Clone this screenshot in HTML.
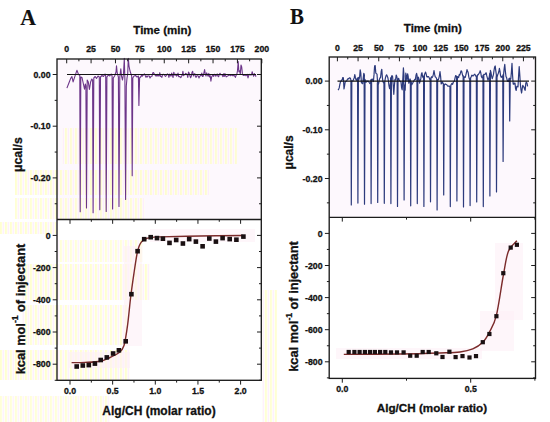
<!DOCTYPE html><html><head><meta charset="utf-8"><style>html,body{margin:0;padding:0;background:#fff;width:550px;height:422px;overflow:hidden}svg{display:block}</style></head><body><svg width="550" height="422" viewBox="0 0 550 422">
<rect width="550" height="422" fill="#fff"/>
<defs><pattern id="ys" width="5" height="6" patternUnits="userSpaceOnUse"><rect width="5" height="6" fill="#fffff0"/><rect x="0" width="1.8" height="6" fill="#ffffb0"/><rect x="2.8" width="1.2" height="6" fill="#fde4fd"/></pattern></defs>
<rect x="58" y="60" width="202" height="159" fill="#fdf8fd"/>
<rect x="62" y="128" width="175" height="36" fill="url(#ys)" opacity="0.55"/>
<rect x="15" y="170" width="195" height="25" fill="url(#ys)" opacity="0.6"/>
<rect x="15" y="198" width="130" height="21" fill="url(#ys)" opacity="0.55"/>
<rect x="0" y="222" width="56" height="12" fill="url(#ys)" opacity="0.6"/>
<rect x="58" y="240" width="85" height="22" fill="url(#ys)" opacity="0.5"/>
<rect x="22" y="264" width="128" height="36" fill="url(#ys)" opacity="0.6"/>
<rect x="22" y="305" width="105" height="40" fill="url(#ys)" opacity="0.55"/>
<rect x="0" y="350" width="130" height="30" fill="url(#ys)" opacity="0.6"/>
<rect x="0" y="396" width="110" height="26" fill="url(#ys)" opacity="0.5"/>
<rect x="262" y="290" width="15" height="132" fill="url(#ys)" opacity="0.55"/>
<rect x="336" y="348" width="146" height="11" fill="#fdf0f7" opacity="0.6"/>
<rect x="480" y="311" width="34" height="40" fill="#fdf0f7" opacity="0.6"/>
<rect x="495" y="243" width="28" height="77" fill="#fdf0f7" opacity="0.6"/>
<rect x="150" y="229" width="105" height="13" fill="#fdf0f7" opacity="0.6"/>
<rect x="68" y="352" width="62" height="16" fill="#fdf0f7" opacity="0.6"/>
<rect x="124" y="246" width="18" height="100" fill="#fdf0f7" opacity="0.6"/>
<rect x="330" y="58" width="205" height="159" fill="#fdf8fd"/>
<path d="M66.90,88.10 L69.00,82.70 L70.60,78.60 L71.90,76.50 L73.10,81.90 L74.40,77.80 L76.90,70.30 L78.50,74.40 L79.80,75.50 L80.20,211.70 L80.80,77.00 L82.00,77.50 L83.20,83.00 L84.50,89.20 L85.30,84.00 L85.90,86.00 L86.50,208.00 L87.20,80.00 L88.30,82.00 L89.40,89.40 L90.60,82.00 L91.80,79.00 L92.60,80.00 L93.10,212.70 L93.80,78.00 L95.20,76.50 L96.50,78.50 L98.00,76.00 L99.30,77.00 L99.80,209.80 L100.50,77.00 L102.00,75.50 L103.50,76.50 L105.00,74.00 L105.70,76.00 L106.20,211.40 L106.90,77.00 L108.30,75.00 L109.80,76.00 L111.20,74.00 L112.10,76.00 L112.60,208.90 L113.30,78.00 L114.60,76.00 L116.00,72.00 L116.50,65.70 L117.20,73.00 L118.40,77.00 L119.00,206.40 L119.80,77.00 L120.80,68.90 L121.50,76.00 L122.50,80.00 L123.50,74.00 L124.30,58.20 L124.90,80.00 L125.60,199.50 L126.30,86.00 L127.00,78.00 L127.70,74.00 L128.30,58.20 L129.00,66.00 L130.00,71.00 L131.00,74.00 L131.70,76.00 L132.20,175.70 L132.80,78.00 L134.00,76.00 L135.50,75.50 L137.00,77.00 L138.40,76.00 L138.90,105.50 L139.60,78.00 L141.00,76.50 L141.60,74.99 L142.30,76.22 L143.00,75.04 L143.70,74.90 L144.40,73.91 L145.10,75.06 L145.80,77.18 L146.50,76.08 L147.20,77.06 L147.90,75.80 L148.60,76.03 L149.30,75.98 L150.00,78.00 L150.70,76.92 L151.40,76.21 L152.10,76.20 L152.80,72.69 L153.50,72.61 L154.20,73.98 L154.90,74.65 L155.60,75.89 L156.30,75.33 L157.00,76.23 L157.70,74.37 L158.40,75.89 L159.10,76.03 L159.80,72.67 L160.50,76.39 L161.20,76.29 L161.90,77.32 L162.60,74.41 L163.30,74.22 L164.00,74.85 L164.70,75.23 L165.40,76.41 L166.10,75.80 L166.80,74.68 L167.50,73.87 L168.20,74.57 L168.90,77.35 L169.60,74.11 L170.30,75.79 L171.00,76.08 L171.70,73.02 L172.40,75.48 L173.10,77.49 L173.80,72.18 L174.50,74.89 L175.20,75.23 L175.90,74.09 L176.60,76.20 L177.30,75.30 L178.00,73.06 L178.70,76.72 L179.40,76.47 L180.10,76.91 L180.80,77.70 L181.50,75.98 L182.20,75.59 L182.90,71.33 L183.60,75.62 L184.30,74.42 L185.00,74.68 L185.70,73.38 L186.40,73.85 L187.10,74.55 L187.80,77.46 L188.50,72.15 L189.20,73.07 L189.90,75.78 L190.60,77.71 L191.30,76.33 L192.00,72.36 L192.70,71.37 L193.40,75.97 L194.10,74.22 L194.80,73.61 L195.50,76.96 L196.20,77.16 L196.90,75.65 L197.60,75.79 L198.30,76.09 L199.00,77.95 L199.70,76.39 L200.40,75.62 L201.10,75.66 L201.80,73.12 L202.50,76.54 L203.20,76.15 L203.90,72.96 L204.60,69.53 L205.30,74.24 L206.00,76.01 L206.70,72.83 L207.40,74.78 L208.10,76.22 L208.80,73.43 L209.50,76.93 L210.20,75.66 L210.90,81.10 L211.60,77.04 L212.30,75.78 L213.00,75.14 L213.70,76.37 L214.40,74.21 L215.10,74.50 L215.80,76.25 L216.50,75.03 L217.20,73.94 L217.90,76.14 L218.60,76.76 L219.30,74.47 L220.00,73.34 L220.70,74.84 L221.40,74.82 L222.10,74.64 L222.80,76.69 L223.50,73.77 L224.20,76.51 L224.90,73.48 L225.60,75.78 L226.30,76.85 L227.00,76.35 L227.70,76.03 L228.40,75.41 L229.10,75.17 L229.80,75.18 L230.50,75.69 L231.20,74.79 L231.90,75.33 L232.60,75.69 L233.30,75.00 L234.00,75.92 L234.70,75.68 L235.40,77.41 L236.10,75.39 L236.80,74.49 L237.50,70.64 L238.20,61.50 L238.90,71.73 L239.60,70.77 L240.30,74.12 L241.00,65.04 L241.70,66.96 L242.40,73.65 L243.10,75.29 L243.80,75.48 L244.50,75.29 L245.20,74.48 L245.90,75.79 L246.60,75.34 L247.30,74.37 L248.00,77.92 L248.70,75.43 L249.40,74.33 L250.10,74.88 L250.80,74.73 L251.50,74.92 L252.20,71.73 L252.90,74.42 L253.60,76.21 L254.30,73.60 L255.00,74.92 L255.70,76.14 L256.40,76.03" fill="none" stroke="#6c3589" stroke-width="1.1" stroke-linejoin="round"/>
<line x1="67.00" y1="74.50" x2="256.00" y2="74.50" stroke="#151515" stroke-width="1.1"/>
<path d="M338.00,90.12 L338.60,89.40 L339.20,87.90 L339.80,84.69 L340.40,82.04 L341.00,81.13 L341.60,80.14 L342.20,79.87 L342.80,77.52 L343.40,77.78 L344.00,88.85 L344.60,85.53 L345.20,82.00 L345.80,81.59 L346.40,80.88 L347.00,80.34 L347.60,79.08 L348.20,78.67 L348.80,78.91 L349.40,77.82 L350.00,77.78 L350.60,78.75 L351.20,81.60 L350.95,81.10 L351.30,204.90 L351.80,85.10 L351.80,81.16 L352.40,80.97 L353.00,80.93 L353.60,79.16 L354.20,77.92 L354.80,74.60 L355.40,77.48 L356.00,79.87 L356.60,80.31 L357.20,78.62 L357.80,78.01 L357.55,80.15 L357.90,203.10 L358.40,85.10 L358.40,77.36 L359.00,79.34 L359.60,77.10 L360.20,69.85 L360.80,73.10 L361.40,82.81 L362.00,83.11 L362.60,83.73 L363.20,78.67 L363.80,73.27 L364.40,74.88 L364.15,82.05 L364.50,204.20 L365.00,85.10 L365.00,79.44 L365.60,81.74 L366.20,82.20 L366.80,80.90 L367.40,81.33 L368.00,81.11 L368.60,81.28 L369.20,82.45 L369.80,83.55 L370.40,83.07 L371.00,81.33 L370.75,79.96 L371.10,203.60 L371.60,85.10 L371.60,79.44 L372.20,78.99 L372.80,79.98 L373.40,81.54 L374.00,74.89 L374.60,66.03 L375.20,65.62 L375.80,73.13 L376.40,73.61 L377.00,74.13 L377.60,82.51 L377.35,82.93 L377.70,202.50 L378.20,85.10 L378.20,84.95 L378.80,82.77 L379.40,79.31 L380.00,78.13 L380.60,77.16 L381.20,71.49 L381.80,69.24 L382.40,77.73 L383.00,81.82 L383.60,82.86 L384.20,82.50 L383.95,83.07 L384.30,203.30 L384.80,85.10 L384.80,81.61 L385.40,78.01 L386.00,75.80 L386.60,74.86 L387.20,76.11 L387.80,77.42 L388.40,80.88 L389.00,85.83 L389.60,88.69 L390.20,84.73 L390.80,80.81 L390.55,77.85 L390.90,203.60 L391.40,85.10 L391.40,76.94 L392.00,75.59 L392.60,76.51 L393.20,85.14 L393.80,94.30 L394.40,85.46 L395.00,79.33 L395.60,79.76 L396.20,75.04 L396.80,76.38 L397.40,80.02 L397.15,79.69 L397.50,206.40 L398.00,85.10 L398.00,79.05 L398.60,78.27 L399.20,80.02 L399.80,80.85 L400.40,81.42 L401.00,82.01 L401.60,87.94 L402.20,89.83 L402.80,79.36 L403.40,67.88 L404.00,75.92 L403.75,80.52 L404.10,200.00 L404.60,85.10 L404.60,88.56 L405.20,90.28 L405.80,73.20 L406.40,76.18 L407.00,80.73 L407.60,73.73 L408.20,76.46 L408.80,83.23 L409.40,81.03 L410.00,78.94 L410.60,80.90 L410.35,79.73 L410.70,205.80 L411.20,85.10 L411.20,81.94 L411.80,84.73 L412.40,83.51 L413.00,82.65 L413.60,80.93 L414.20,80.34 L414.80,79.38 L415.40,79.46 L416.00,75.30 L416.60,73.34 L417.20,76.12 L416.95,79.44 L417.30,203.60 L417.80,85.10 L417.80,78.13 L418.40,77.14 L419.00,79.26 L419.60,83.04 L420.20,80.43 L420.80,78.69 L421.40,74.10 L422.00,72.70 L422.60,76.89 L423.20,77.64 L423.80,77.28 L423.55,76.10 L423.90,206.40 L424.40,85.10 L424.40,74.90 L425.00,73.25 L425.60,72.10 L426.20,74.09 L426.80,76.81 L427.40,77.06 L428.00,76.54 L428.60,76.69 L429.20,77.84 L429.80,79.56 L430.40,78.73 L430.15,78.83 L430.50,201.80 L431.00,85.10 L431.00,77.50 L431.60,76.75 L432.20,77.53 L432.80,76.42 L433.40,74.18 L434.00,70.70 L434.60,74.21 L435.20,76.80 L435.80,77.23 L436.40,78.11 L437.00,79.72 L436.75,79.26 L437.10,210.00 L437.60,85.10 L437.60,79.56 L438.20,79.92 L438.80,78.36 L439.40,75.97 L440.00,71.70 L440.60,76.36 L441.20,83.89 L441.80,82.99 L442.40,81.68 L443.00,83.55 L443.60,83.71 L443.35,85.10 L443.70,195.00 L444.20,85.10 L444.20,85.73 L444.80,84.27 L445.40,83.98 L446.00,84.50 L446.60,84.52 L447.20,85.41 L447.80,86.17 L448.40,86.17 L449.00,85.96 L449.60,86.55 L450.20,86.76 L449.95,86.80 L450.30,206.60 L450.80,85.10 L450.80,85.61 L451.40,84.21 L452.00,83.42 L452.60,84.29 L453.20,82.51 L453.80,81.44 L454.40,81.00 L455.00,78.06 L455.60,75.55 L456.20,76.05 L456.80,76.52 L456.55,76.30 L456.90,201.00 L457.40,85.10 L457.40,76.83 L458.00,76.82 L458.60,77.54 L459.20,74.63 L459.80,75.19 L460.40,73.07 L461.00,70.91 L461.60,71.10 L462.20,73.68 L462.80,76.06 L463.40,76.91 L463.15,75.56 L463.50,207.00 L464.00,85.10 L464.00,77.00 L464.60,76.86 L465.20,77.46 L465.80,75.23 L466.40,72.74 L467.00,69.60 L467.60,71.35 L468.20,72.75 L468.80,76.82 L469.40,79.15 L470.00,78.79 L469.75,79.82 L470.10,205.60 L470.60,85.10 L470.60,78.06 L471.20,76.73 L471.80,75.23 L472.40,75.40 L473.00,76.00 L473.60,75.16 L474.20,74.73 L474.80,74.22 L475.40,75.26 L476.00,76.40 L476.60,77.11 L476.35,75.96 L476.70,202.00 L477.20,85.10 L477.20,76.94 L477.80,74.70 L478.40,74.55 L479.00,73.42 L479.60,72.66 L480.20,70.70 L480.80,72.97 L481.40,76.61 L482.00,77.81 L482.60,77.17 L483.20,75.55 L482.95,75.30 L483.30,206.60 L483.80,85.10 L483.80,74.35 L484.40,74.51 L485.00,74.48 L485.60,73.24 L486.20,72.80 L486.80,75.94 L487.40,78.18 L488.00,80.32 L488.60,78.43 L489.20,77.37 L489.80,73.10 L489.55,77.13 L489.90,196.00 L490.40,85.10 L490.40,70.45 L491.00,72.48 L491.60,76.20 L492.20,78.73 L492.80,76.85 L493.40,74.81 L494.00,70.70 L494.60,67.10 L495.20,65.94 L495.80,70.91 L496.40,75.18 L496.15,77.41 L496.50,192.00 L497.00,85.10 L497.00,77.27 L497.60,75.05 L498.20,73.61 L498.80,71.73 L499.40,68.25 L500.00,71.33 L500.60,75.82 L501.20,77.35 L501.80,76.49 L502.40,77.05 L503.00,74.91 L502.75,75.94 L503.10,161.40 L503.60,85.10 L503.60,74.41 L504.20,68.37 L504.80,64.43 L505.40,71.56 L506.00,76.50 L506.60,77.64 L507.20,80.26 L507.80,81.38 L508.40,81.30 L509.00,78.57 L509.60,78.20 L509.35,79.17 L509.70,121.00 L510.20,85.10 L510.20,78.75 L510.80,78.86 L511.40,72.07 L512.00,63.40 L512.60,75.80 L513.20,84.05 L513.80,84.09 L514.40,83.17 L515.00,83.07 L515.60,88.87 L516.20,90.43 L516.80,86.41 L517.40,86.30 L518.00,86.80 L518.60,75.90 L519.20,66.50 L519.80,75.11 L520.40,84.69 L521.00,89.94 L521.60,93.02 L522.20,88.60 L522.80,85.24 L523.40,86.80 L524.00,86.81 L524.60,89.31 L525.20,90.32 L525.80,83.30 L526.40,82.12 L527.00,83.21 L527.60,86.32" fill="none" stroke="#2d3b7d" stroke-width="1.2" stroke-linejoin="round"/>
<line x1="337.50" y1="81.10" x2="529.00" y2="81.10" stroke="#151515" stroke-width="1.1"/>
<rect x="0" y="0" width="550" height="57.5" fill="#fff"/>
<rect x="120" y="56" width="12" height="3" fill="#fff" opacity="0"/>
<rect x="57" y="59" width="204.30" height="321.30" fill="none" stroke="#1c1c1c" stroke-width="1.35"/>
<line x1="57.00" y1="219.50" x2="261.30" y2="219.50" stroke="#1c1c1c" stroke-width="1.35"/>
<rect x="329.2" y="57" width="206.30" height="321.40" fill="none" stroke="#1c1c1c" stroke-width="1.35"/>
<line x1="329.20" y1="217.30" x2="535.50" y2="217.30" stroke="#1c1c1c" stroke-width="1.35"/>
<line x1="66.70" y1="59.00" x2="66.70" y2="63.30" stroke="#1c1c1c" stroke-width="1"/>
<text transform="translate(66.70,52.40) scale(0.95,1)" font-family="Liberation Sans" font-size="9.2" font-weight="bold" text-anchor="middle" fill="#111" stroke="#111" stroke-width="0.3" >0</text>
<line x1="78.90" y1="59.00" x2="78.90" y2="61.30" stroke="#1c1c1c" stroke-width="1"/>
<line x1="91.09" y1="59.00" x2="91.09" y2="63.30" stroke="#1c1c1c" stroke-width="1"/>
<text transform="translate(91.09,52.40) scale(0.95,1)" font-family="Liberation Sans" font-size="9.2" font-weight="bold" text-anchor="middle" fill="#111" stroke="#111" stroke-width="0.3" >25</text>
<line x1="103.28" y1="59.00" x2="103.28" y2="61.30" stroke="#1c1c1c" stroke-width="1"/>
<line x1="115.48" y1="59.00" x2="115.48" y2="63.30" stroke="#1c1c1c" stroke-width="1"/>
<text transform="translate(115.48,52.40) scale(0.95,1)" font-family="Liberation Sans" font-size="9.2" font-weight="bold" text-anchor="middle" fill="#111" stroke="#111" stroke-width="0.3" >50</text>
<line x1="127.68" y1="59.00" x2="127.68" y2="61.30" stroke="#1c1c1c" stroke-width="1"/>
<line x1="139.87" y1="59.00" x2="139.87" y2="63.30" stroke="#1c1c1c" stroke-width="1"/>
<text transform="translate(139.87,52.40) scale(0.95,1)" font-family="Liberation Sans" font-size="9.2" font-weight="bold" text-anchor="middle" fill="#111" stroke="#111" stroke-width="0.3" >75</text>
<line x1="152.06" y1="59.00" x2="152.06" y2="61.30" stroke="#1c1c1c" stroke-width="1"/>
<line x1="164.26" y1="59.00" x2="164.26" y2="63.30" stroke="#1c1c1c" stroke-width="1"/>
<text transform="translate(164.26,52.40) scale(0.95,1)" font-family="Liberation Sans" font-size="9.2" font-weight="bold" text-anchor="middle" fill="#111" stroke="#111" stroke-width="0.3" >100</text>
<line x1="176.45" y1="59.00" x2="176.45" y2="61.30" stroke="#1c1c1c" stroke-width="1"/>
<line x1="188.65" y1="59.00" x2="188.65" y2="63.30" stroke="#1c1c1c" stroke-width="1"/>
<text transform="translate(188.65,52.40) scale(0.95,1)" font-family="Liberation Sans" font-size="9.2" font-weight="bold" text-anchor="middle" fill="#111" stroke="#111" stroke-width="0.3" >125</text>
<line x1="200.85" y1="59.00" x2="200.85" y2="61.30" stroke="#1c1c1c" stroke-width="1"/>
<line x1="213.04" y1="59.00" x2="213.04" y2="63.30" stroke="#1c1c1c" stroke-width="1"/>
<text transform="translate(213.04,52.40) scale(0.95,1)" font-family="Liberation Sans" font-size="9.2" font-weight="bold" text-anchor="middle" fill="#111" stroke="#111" stroke-width="0.3" >150</text>
<line x1="225.24" y1="59.00" x2="225.24" y2="61.30" stroke="#1c1c1c" stroke-width="1"/>
<line x1="237.43" y1="59.00" x2="237.43" y2="63.30" stroke="#1c1c1c" stroke-width="1"/>
<text transform="translate(237.43,52.40) scale(0.95,1)" font-family="Liberation Sans" font-size="9.2" font-weight="bold" text-anchor="middle" fill="#111" stroke="#111" stroke-width="0.3" >175</text>
<line x1="249.62" y1="59.00" x2="249.62" y2="61.30" stroke="#1c1c1c" stroke-width="1"/>
<line x1="261.82" y1="59.00" x2="261.82" y2="63.30" stroke="#1c1c1c" stroke-width="1"/>
<text transform="translate(261.82,52.40) scale(0.95,1)" font-family="Liberation Sans" font-size="9.2" font-weight="bold" text-anchor="middle" fill="#111" stroke="#111" stroke-width="0.3" >200</text>
<line x1="52.70" y1="74.50" x2="57.00" y2="74.50" stroke="#1c1c1c" stroke-width="1"/>
<line x1="257.00" y1="74.50" x2="261.30" y2="74.50" stroke="#1c1c1c" stroke-width="1"/>
<text transform="translate(50.50,77.60) scale(0.95,1)" font-family="Liberation Sans" font-size="9.2" font-weight="bold" text-anchor="end" fill="#111" stroke="#111" stroke-width="0.3" >0.00</text>
<line x1="54.70" y1="100.35" x2="57.00" y2="100.35" stroke="#1c1c1c" stroke-width="1"/>
<line x1="259.00" y1="100.35" x2="261.30" y2="100.35" stroke="#1c1c1c" stroke-width="1"/>
<line x1="52.70" y1="126.20" x2="57.00" y2="126.20" stroke="#1c1c1c" stroke-width="1"/>
<line x1="257.00" y1="126.20" x2="261.30" y2="126.20" stroke="#1c1c1c" stroke-width="1"/>
<text transform="translate(50.50,129.30) scale(0.95,1)" font-family="Liberation Sans" font-size="9.2" font-weight="bold" text-anchor="end" fill="#111" stroke="#111" stroke-width="0.3" >-0.10</text>
<line x1="54.70" y1="152.05" x2="57.00" y2="152.05" stroke="#1c1c1c" stroke-width="1"/>
<line x1="259.00" y1="152.05" x2="261.30" y2="152.05" stroke="#1c1c1c" stroke-width="1"/>
<line x1="52.70" y1="177.90" x2="57.00" y2="177.90" stroke="#1c1c1c" stroke-width="1"/>
<line x1="257.00" y1="177.90" x2="261.30" y2="177.90" stroke="#1c1c1c" stroke-width="1"/>
<text transform="translate(50.50,181.00) scale(0.95,1)" font-family="Liberation Sans" font-size="9.2" font-weight="bold" text-anchor="end" fill="#111" stroke="#111" stroke-width="0.3" >-0.20</text>
<line x1="54.70" y1="203.75" x2="57.00" y2="203.75" stroke="#1c1c1c" stroke-width="1"/>
<line x1="259.00" y1="203.75" x2="261.30" y2="203.75" stroke="#1c1c1c" stroke-width="1"/>
<line x1="52.70" y1="235.40" x2="57.00" y2="235.40" stroke="#1c1c1c" stroke-width="1"/>
<line x1="257.00" y1="235.40" x2="261.30" y2="235.40" stroke="#1c1c1c" stroke-width="1"/>
<text transform="translate(50.50,238.50) scale(0.95,1)" font-family="Liberation Sans" font-size="9.2" font-weight="bold" text-anchor="end" fill="#111" stroke="#111" stroke-width="0.3" >0</text>
<line x1="54.70" y1="251.50" x2="57.00" y2="251.50" stroke="#1c1c1c" stroke-width="1"/>
<line x1="259.00" y1="251.50" x2="261.30" y2="251.50" stroke="#1c1c1c" stroke-width="1"/>
<line x1="52.70" y1="267.60" x2="57.00" y2="267.60" stroke="#1c1c1c" stroke-width="1"/>
<line x1="257.00" y1="267.60" x2="261.30" y2="267.60" stroke="#1c1c1c" stroke-width="1"/>
<text transform="translate(50.50,270.70) scale(0.95,1)" font-family="Liberation Sans" font-size="9.2" font-weight="bold" text-anchor="end" fill="#111" stroke="#111" stroke-width="0.3" >-200</text>
<line x1="54.70" y1="283.70" x2="57.00" y2="283.70" stroke="#1c1c1c" stroke-width="1"/>
<line x1="259.00" y1="283.70" x2="261.30" y2="283.70" stroke="#1c1c1c" stroke-width="1"/>
<line x1="52.70" y1="299.80" x2="57.00" y2="299.80" stroke="#1c1c1c" stroke-width="1"/>
<line x1="257.00" y1="299.80" x2="261.30" y2="299.80" stroke="#1c1c1c" stroke-width="1"/>
<text transform="translate(50.50,302.90) scale(0.95,1)" font-family="Liberation Sans" font-size="9.2" font-weight="bold" text-anchor="end" fill="#111" stroke="#111" stroke-width="0.3" >-400</text>
<line x1="54.70" y1="315.90" x2="57.00" y2="315.90" stroke="#1c1c1c" stroke-width="1"/>
<line x1="259.00" y1="315.90" x2="261.30" y2="315.90" stroke="#1c1c1c" stroke-width="1"/>
<line x1="52.70" y1="332.00" x2="57.00" y2="332.00" stroke="#1c1c1c" stroke-width="1"/>
<line x1="257.00" y1="332.00" x2="261.30" y2="332.00" stroke="#1c1c1c" stroke-width="1"/>
<text transform="translate(50.50,335.10) scale(0.95,1)" font-family="Liberation Sans" font-size="9.2" font-weight="bold" text-anchor="end" fill="#111" stroke="#111" stroke-width="0.3" >-600</text>
<line x1="54.70" y1="348.10" x2="57.00" y2="348.10" stroke="#1c1c1c" stroke-width="1"/>
<line x1="259.00" y1="348.10" x2="261.30" y2="348.10" stroke="#1c1c1c" stroke-width="1"/>
<line x1="52.70" y1="364.20" x2="57.00" y2="364.20" stroke="#1c1c1c" stroke-width="1"/>
<line x1="257.00" y1="364.20" x2="261.30" y2="364.20" stroke="#1c1c1c" stroke-width="1"/>
<text transform="translate(50.50,367.30) scale(0.95,1)" font-family="Liberation Sans" font-size="9.2" font-weight="bold" text-anchor="end" fill="#111" stroke="#111" stroke-width="0.3" >-800</text>
<line x1="54.70" y1="380.30" x2="57.00" y2="380.30" stroke="#1c1c1c" stroke-width="1"/>
<line x1="259.00" y1="380.30" x2="261.30" y2="380.30" stroke="#1c1c1c" stroke-width="1"/>
<line x1="70.00" y1="380.30" x2="70.00" y2="384.60" stroke="#1c1c1c" stroke-width="1"/>
<line x1="70.00" y1="219.50" x2="70.00" y2="223.80" stroke="#1c1c1c" stroke-width="1"/>
<text transform="translate(70.00,394.20) scale(0.95,1)" font-family="Liberation Sans" font-size="9.2" font-weight="bold" text-anchor="middle" fill="#111" stroke="#111" stroke-width="0.3" >0.0</text>
<line x1="91.33" y1="380.30" x2="91.33" y2="382.60" stroke="#1c1c1c" stroke-width="1"/>
<line x1="91.33" y1="219.50" x2="91.33" y2="221.80" stroke="#1c1c1c" stroke-width="1"/>
<line x1="112.65" y1="380.30" x2="112.65" y2="384.60" stroke="#1c1c1c" stroke-width="1"/>
<line x1="112.65" y1="219.50" x2="112.65" y2="223.80" stroke="#1c1c1c" stroke-width="1"/>
<text transform="translate(112.65,394.20) scale(0.95,1)" font-family="Liberation Sans" font-size="9.2" font-weight="bold" text-anchor="middle" fill="#111" stroke="#111" stroke-width="0.3" >0.5</text>
<line x1="133.97" y1="380.30" x2="133.97" y2="382.60" stroke="#1c1c1c" stroke-width="1"/>
<line x1="133.97" y1="219.50" x2="133.97" y2="221.80" stroke="#1c1c1c" stroke-width="1"/>
<line x1="155.30" y1="380.30" x2="155.30" y2="384.60" stroke="#1c1c1c" stroke-width="1"/>
<line x1="155.30" y1="219.50" x2="155.30" y2="223.80" stroke="#1c1c1c" stroke-width="1"/>
<text transform="translate(155.30,394.20) scale(0.95,1)" font-family="Liberation Sans" font-size="9.2" font-weight="bold" text-anchor="middle" fill="#111" stroke="#111" stroke-width="0.3" >1.0</text>
<line x1="176.62" y1="380.30" x2="176.62" y2="382.60" stroke="#1c1c1c" stroke-width="1"/>
<line x1="176.62" y1="219.50" x2="176.62" y2="221.80" stroke="#1c1c1c" stroke-width="1"/>
<line x1="197.95" y1="380.30" x2="197.95" y2="384.60" stroke="#1c1c1c" stroke-width="1"/>
<line x1="197.95" y1="219.50" x2="197.95" y2="223.80" stroke="#1c1c1c" stroke-width="1"/>
<text transform="translate(197.95,394.20) scale(0.95,1)" font-family="Liberation Sans" font-size="9.2" font-weight="bold" text-anchor="middle" fill="#111" stroke="#111" stroke-width="0.3" >1.5</text>
<line x1="219.28" y1="380.30" x2="219.28" y2="382.60" stroke="#1c1c1c" stroke-width="1"/>
<line x1="219.28" y1="219.50" x2="219.28" y2="221.80" stroke="#1c1c1c" stroke-width="1"/>
<line x1="240.60" y1="380.30" x2="240.60" y2="384.60" stroke="#1c1c1c" stroke-width="1"/>
<line x1="240.60" y1="219.50" x2="240.60" y2="223.80" stroke="#1c1c1c" stroke-width="1"/>
<text transform="translate(240.60,394.20) scale(0.95,1)" font-family="Liberation Sans" font-size="9.2" font-weight="bold" text-anchor="middle" fill="#111" stroke="#111" stroke-width="0.3" >2.0</text>
<line x1="337.40" y1="57.00" x2="337.40" y2="61.30" stroke="#1c1c1c" stroke-width="1"/>
<text transform="translate(337.40,50.80) scale(0.95,1)" font-family="Liberation Sans" font-size="9.2" font-weight="bold" text-anchor="middle" fill="#111" stroke="#111" stroke-width="0.3" >0</text>
<line x1="347.73" y1="57.00" x2="347.73" y2="59.30" stroke="#1c1c1c" stroke-width="1"/>
<line x1="358.07" y1="57.00" x2="358.07" y2="61.30" stroke="#1c1c1c" stroke-width="1"/>
<text transform="translate(358.07,50.80) scale(0.95,1)" font-family="Liberation Sans" font-size="9.2" font-weight="bold" text-anchor="middle" fill="#111" stroke="#111" stroke-width="0.3" >25</text>
<line x1="368.40" y1="57.00" x2="368.40" y2="59.30" stroke="#1c1c1c" stroke-width="1"/>
<line x1="378.74" y1="57.00" x2="378.74" y2="61.30" stroke="#1c1c1c" stroke-width="1"/>
<text transform="translate(378.74,50.80) scale(0.95,1)" font-family="Liberation Sans" font-size="9.2" font-weight="bold" text-anchor="middle" fill="#111" stroke="#111" stroke-width="0.3" >50</text>
<line x1="389.07" y1="57.00" x2="389.07" y2="59.30" stroke="#1c1c1c" stroke-width="1"/>
<line x1="399.41" y1="57.00" x2="399.41" y2="61.30" stroke="#1c1c1c" stroke-width="1"/>
<text transform="translate(399.41,50.80) scale(0.95,1)" font-family="Liberation Sans" font-size="9.2" font-weight="bold" text-anchor="middle" fill="#111" stroke="#111" stroke-width="0.3" >75</text>
<line x1="409.75" y1="57.00" x2="409.75" y2="59.30" stroke="#1c1c1c" stroke-width="1"/>
<line x1="420.08" y1="57.00" x2="420.08" y2="61.30" stroke="#1c1c1c" stroke-width="1"/>
<text transform="translate(420.08,50.80) scale(0.95,1)" font-family="Liberation Sans" font-size="9.2" font-weight="bold" text-anchor="middle" fill="#111" stroke="#111" stroke-width="0.3" >100</text>
<line x1="430.41" y1="57.00" x2="430.41" y2="59.30" stroke="#1c1c1c" stroke-width="1"/>
<line x1="440.75" y1="57.00" x2="440.75" y2="61.30" stroke="#1c1c1c" stroke-width="1"/>
<text transform="translate(440.75,50.80) scale(0.95,1)" font-family="Liberation Sans" font-size="9.2" font-weight="bold" text-anchor="middle" fill="#111" stroke="#111" stroke-width="0.3" >125</text>
<line x1="451.08" y1="57.00" x2="451.08" y2="59.30" stroke="#1c1c1c" stroke-width="1"/>
<line x1="461.42" y1="57.00" x2="461.42" y2="61.30" stroke="#1c1c1c" stroke-width="1"/>
<text transform="translate(461.42,50.80) scale(0.95,1)" font-family="Liberation Sans" font-size="9.2" font-weight="bold" text-anchor="middle" fill="#111" stroke="#111" stroke-width="0.3" >150</text>
<line x1="471.75" y1="57.00" x2="471.75" y2="59.30" stroke="#1c1c1c" stroke-width="1"/>
<line x1="482.09" y1="57.00" x2="482.09" y2="61.30" stroke="#1c1c1c" stroke-width="1"/>
<text transform="translate(482.09,50.80) scale(0.95,1)" font-family="Liberation Sans" font-size="9.2" font-weight="bold" text-anchor="middle" fill="#111" stroke="#111" stroke-width="0.3" >175</text>
<line x1="492.42" y1="57.00" x2="492.42" y2="59.30" stroke="#1c1c1c" stroke-width="1"/>
<line x1="502.76" y1="57.00" x2="502.76" y2="61.30" stroke="#1c1c1c" stroke-width="1"/>
<text transform="translate(502.76,50.80) scale(0.95,1)" font-family="Liberation Sans" font-size="9.2" font-weight="bold" text-anchor="middle" fill="#111" stroke="#111" stroke-width="0.3" >200</text>
<line x1="513.10" y1="57.00" x2="513.10" y2="59.30" stroke="#1c1c1c" stroke-width="1"/>
<line x1="523.43" y1="57.00" x2="523.43" y2="61.30" stroke="#1c1c1c" stroke-width="1"/>
<text transform="translate(523.43,50.80) scale(0.95,1)" font-family="Liberation Sans" font-size="9.2" font-weight="bold" text-anchor="middle" fill="#111" stroke="#111" stroke-width="0.3" >225</text>
<line x1="533.76" y1="57.00" x2="533.76" y2="59.30" stroke="#1c1c1c" stroke-width="1"/>
<line x1="324.90" y1="81.10" x2="329.20" y2="81.10" stroke="#1c1c1c" stroke-width="1"/>
<line x1="531.20" y1="81.10" x2="535.50" y2="81.10" stroke="#1c1c1c" stroke-width="1"/>
<text transform="translate(322.50,84.20) scale(0.95,1)" font-family="Liberation Sans" font-size="9.2" font-weight="bold" text-anchor="end" fill="#111" stroke="#111" stroke-width="0.3" >0.00</text>
<line x1="326.90" y1="105.45" x2="329.20" y2="105.45" stroke="#1c1c1c" stroke-width="1"/>
<line x1="533.20" y1="105.45" x2="535.50" y2="105.45" stroke="#1c1c1c" stroke-width="1"/>
<line x1="324.90" y1="129.80" x2="329.20" y2="129.80" stroke="#1c1c1c" stroke-width="1"/>
<line x1="531.20" y1="129.80" x2="535.50" y2="129.80" stroke="#1c1c1c" stroke-width="1"/>
<text transform="translate(322.50,132.90) scale(0.95,1)" font-family="Liberation Sans" font-size="9.2" font-weight="bold" text-anchor="end" fill="#111" stroke="#111" stroke-width="0.3" >-0.10</text>
<line x1="326.90" y1="154.15" x2="329.20" y2="154.15" stroke="#1c1c1c" stroke-width="1"/>
<line x1="533.20" y1="154.15" x2="535.50" y2="154.15" stroke="#1c1c1c" stroke-width="1"/>
<line x1="324.90" y1="178.50" x2="329.20" y2="178.50" stroke="#1c1c1c" stroke-width="1"/>
<line x1="531.20" y1="178.50" x2="535.50" y2="178.50" stroke="#1c1c1c" stroke-width="1"/>
<text transform="translate(322.50,181.60) scale(0.95,1)" font-family="Liberation Sans" font-size="9.2" font-weight="bold" text-anchor="end" fill="#111" stroke="#111" stroke-width="0.3" >-0.20</text>
<line x1="326.90" y1="202.85" x2="329.20" y2="202.85" stroke="#1c1c1c" stroke-width="1"/>
<line x1="533.20" y1="202.85" x2="535.50" y2="202.85" stroke="#1c1c1c" stroke-width="1"/>
<line x1="324.90" y1="233.40" x2="329.20" y2="233.40" stroke="#1c1c1c" stroke-width="1"/>
<line x1="531.20" y1="233.40" x2="535.50" y2="233.40" stroke="#1c1c1c" stroke-width="1"/>
<text transform="translate(322.50,236.50) scale(0.95,1)" font-family="Liberation Sans" font-size="9.2" font-weight="bold" text-anchor="end" fill="#111" stroke="#111" stroke-width="0.3" >0</text>
<line x1="326.90" y1="249.45" x2="329.20" y2="249.45" stroke="#1c1c1c" stroke-width="1"/>
<line x1="533.20" y1="249.45" x2="535.50" y2="249.45" stroke="#1c1c1c" stroke-width="1"/>
<line x1="324.90" y1="265.50" x2="329.20" y2="265.50" stroke="#1c1c1c" stroke-width="1"/>
<line x1="531.20" y1="265.50" x2="535.50" y2="265.50" stroke="#1c1c1c" stroke-width="1"/>
<text transform="translate(322.50,268.60) scale(0.95,1)" font-family="Liberation Sans" font-size="9.2" font-weight="bold" text-anchor="end" fill="#111" stroke="#111" stroke-width="0.3" >-200</text>
<line x1="326.90" y1="281.55" x2="329.20" y2="281.55" stroke="#1c1c1c" stroke-width="1"/>
<line x1="533.20" y1="281.55" x2="535.50" y2="281.55" stroke="#1c1c1c" stroke-width="1"/>
<line x1="324.90" y1="297.60" x2="329.20" y2="297.60" stroke="#1c1c1c" stroke-width="1"/>
<line x1="531.20" y1="297.60" x2="535.50" y2="297.60" stroke="#1c1c1c" stroke-width="1"/>
<text transform="translate(322.50,300.70) scale(0.95,1)" font-family="Liberation Sans" font-size="9.2" font-weight="bold" text-anchor="end" fill="#111" stroke="#111" stroke-width="0.3" >-400</text>
<line x1="326.90" y1="313.65" x2="329.20" y2="313.65" stroke="#1c1c1c" stroke-width="1"/>
<line x1="533.20" y1="313.65" x2="535.50" y2="313.65" stroke="#1c1c1c" stroke-width="1"/>
<line x1="324.90" y1="329.70" x2="329.20" y2="329.70" stroke="#1c1c1c" stroke-width="1"/>
<line x1="531.20" y1="329.70" x2="535.50" y2="329.70" stroke="#1c1c1c" stroke-width="1"/>
<text transform="translate(322.50,332.80) scale(0.95,1)" font-family="Liberation Sans" font-size="9.2" font-weight="bold" text-anchor="end" fill="#111" stroke="#111" stroke-width="0.3" >-600</text>
<line x1="326.90" y1="345.75" x2="329.20" y2="345.75" stroke="#1c1c1c" stroke-width="1"/>
<line x1="533.20" y1="345.75" x2="535.50" y2="345.75" stroke="#1c1c1c" stroke-width="1"/>
<line x1="324.90" y1="361.80" x2="329.20" y2="361.80" stroke="#1c1c1c" stroke-width="1"/>
<line x1="531.20" y1="361.80" x2="535.50" y2="361.80" stroke="#1c1c1c" stroke-width="1"/>
<text transform="translate(322.50,364.90) scale(0.95,1)" font-family="Liberation Sans" font-size="9.2" font-weight="bold" text-anchor="end" fill="#111" stroke="#111" stroke-width="0.3" >-800</text>
<line x1="326.90" y1="377.85" x2="329.20" y2="377.85" stroke="#1c1c1c" stroke-width="1"/>
<line x1="533.20" y1="377.85" x2="535.50" y2="377.85" stroke="#1c1c1c" stroke-width="1"/>
<line x1="342.30" y1="378.40" x2="342.30" y2="382.70" stroke="#1c1c1c" stroke-width="1"/>
<line x1="342.30" y1="217.30" x2="342.30" y2="221.60" stroke="#1c1c1c" stroke-width="1"/>
<text transform="translate(342.30,392.40) scale(0.95,1)" font-family="Liberation Sans" font-size="9.2" font-weight="bold" text-anchor="middle" fill="#111" stroke="#111" stroke-width="0.3" >0.0</text>
<line x1="406.50" y1="378.40" x2="406.50" y2="380.70" stroke="#1c1c1c" stroke-width="1"/>
<line x1="406.50" y1="217.30" x2="406.50" y2="219.60" stroke="#1c1c1c" stroke-width="1"/>
<line x1="470.70" y1="378.40" x2="470.70" y2="382.70" stroke="#1c1c1c" stroke-width="1"/>
<line x1="470.70" y1="217.30" x2="470.70" y2="221.60" stroke="#1c1c1c" stroke-width="1"/>
<text transform="translate(470.70,392.40) scale(0.95,1)" font-family="Liberation Sans" font-size="9.2" font-weight="bold" text-anchor="middle" fill="#111" stroke="#111" stroke-width="0.3" >0.5</text>
<line x1="534.90" y1="378.40" x2="534.90" y2="380.70" stroke="#1c1c1c" stroke-width="1"/>
<line x1="534.90" y1="217.30" x2="534.90" y2="219.60" stroke="#1c1c1c" stroke-width="1"/>
<path d="M71.60,362.60 C73.83,362.57 80.15,362.63 85.00,362.40 C89.85,362.17 96.53,362.02 100.70,361.20 C104.87,360.38 106.97,358.92 110.00,357.50 C113.03,356.08 116.57,354.70 118.90,352.70 C121.23,350.70 122.55,350.12 124.00,345.50 C125.45,340.88 126.47,333.25 127.60,325.00 C128.73,316.75 129.68,305.00 130.80,296.00 C131.92,287.00 133.27,278.00 134.30,271.00 C135.33,264.00 136.22,258.08 137.00,254.00 C137.78,249.92 138.28,248.48 139.00,246.50 C139.72,244.52 140.20,243.37 141.30,242.10 C142.40,240.83 144.15,239.65 145.60,238.90 C147.05,238.15 147.60,237.93 150.00,237.60 C152.40,237.27 151.67,237.17 160.00,236.90 C168.33,236.63 186.17,236.23 200.00,236.00 C213.83,235.77 235.83,235.58 243.00,235.50" fill="none" stroke="#7b2b2b" stroke-width="1.4"/>
<path d="M343.80,354.40 C353.17,354.33 383.97,354.23 400.00,354.00 C416.03,353.77 430.00,353.33 440.00,353.00 C450.00,352.67 454.53,352.68 460.00,352.00 C465.47,351.32 469.00,350.52 472.80,348.90 C476.60,347.28 480.05,345.05 482.80,342.30 C485.55,339.55 487.03,336.90 489.30,332.40 C491.57,327.90 494.07,324.78 496.40,315.30 C498.73,305.82 501.30,286.17 503.30,275.50 C505.30,264.83 506.13,257.08 508.40,251.30 C510.67,245.52 515.48,242.55 516.90,240.80" fill="none" stroke="#7b2b2b" stroke-width="1.4"/>
<rect x="74.40" y="364.20" width="4.6" height="4.6" fill="#1a1012"/>
<rect x="80.50" y="363.20" width="4.6" height="4.6" fill="#1a1012"/>
<rect x="86.50" y="362.80" width="4.6" height="4.6" fill="#1a1012"/>
<rect x="92.60" y="361.30" width="4.6" height="4.6" fill="#1a1012"/>
<rect x="98.40" y="357.70" width="4.6" height="4.6" fill="#1a1012"/>
<rect x="104.50" y="355.10" width="4.6" height="4.6" fill="#1a1012"/>
<rect x="110.80" y="351.20" width="4.6" height="4.6" fill="#1a1012"/>
<rect x="116.60" y="348.00" width="4.6" height="4.6" fill="#1a1012"/>
<rect x="123.40" y="339.00" width="4.6" height="4.6" fill="#1a1012"/>
<rect x="129.10" y="291.90" width="4.6" height="4.6" fill="#1a1012"/>
<rect x="135.30" y="248.90" width="4.6" height="4.6" fill="#1a1012"/>
<rect x="141.90" y="236.90" width="4.6" height="4.6" fill="#1a1012"/>
<rect x="148.40" y="234.90" width="4.6" height="4.6" fill="#1a1012"/>
<rect x="154.70" y="235.80" width="4.6" height="4.6" fill="#1a1012"/>
<rect x="160.60" y="236.40" width="4.6" height="4.6" fill="#1a1012"/>
<rect x="167.20" y="240.60" width="4.6" height="4.6" fill="#1a1012"/>
<rect x="173.90" y="237.70" width="4.6" height="4.6" fill="#1a1012"/>
<rect x="180.60" y="241.20" width="4.6" height="4.6" fill="#1a1012"/>
<rect x="186.90" y="236.80" width="4.6" height="4.6" fill="#1a1012"/>
<rect x="193.60" y="239.30" width="4.6" height="4.6" fill="#1a1012"/>
<rect x="200.30" y="244.00" width="4.6" height="4.6" fill="#1a1012"/>
<rect x="207.00" y="236.20" width="4.6" height="4.6" fill="#1a1012"/>
<rect x="213.60" y="239.30" width="4.6" height="4.6" fill="#1a1012"/>
<rect x="220.30" y="235.80" width="4.6" height="4.6" fill="#1a1012"/>
<rect x="227.40" y="236.80" width="4.6" height="4.6" fill="#1a1012"/>
<rect x="234.10" y="237.40" width="4.6" height="4.6" fill="#1a1012"/>
<rect x="241.10" y="234.30" width="4.6" height="4.6" fill="#1a1012"/>
<rect x="346.60" y="349.90" width="4.2" height="4.2" fill="#1a1012"/>
<rect x="352.30" y="349.90" width="4.2" height="4.2" fill="#1a1012"/>
<rect x="357.50" y="349.90" width="4.2" height="4.2" fill="#1a1012"/>
<rect x="362.80" y="349.90" width="4.2" height="4.2" fill="#1a1012"/>
<rect x="367.90" y="349.90" width="4.2" height="4.2" fill="#1a1012"/>
<rect x="372.80" y="349.90" width="4.2" height="4.2" fill="#1a1012"/>
<rect x="378.00" y="349.90" width="4.2" height="4.2" fill="#1a1012"/>
<rect x="383.20" y="349.90" width="4.2" height="4.2" fill="#1a1012"/>
<rect x="388.90" y="350.30" width="4.2" height="4.2" fill="#1a1012"/>
<rect x="394.90" y="350.30" width="4.2" height="4.2" fill="#1a1012"/>
<rect x="401.50" y="350.30" width="4.2" height="4.2" fill="#1a1012"/>
<rect x="408.10" y="353.60" width="4.2" height="4.2" fill="#1a1012"/>
<rect x="414.60" y="353.60" width="4.2" height="4.2" fill="#1a1012"/>
<rect x="420.60" y="349.90" width="4.2" height="4.2" fill="#1a1012"/>
<rect x="426.60" y="349.90" width="4.2" height="4.2" fill="#1a1012"/>
<rect x="434.20" y="351.20" width="4.2" height="4.2" fill="#1a1012"/>
<rect x="440.40" y="354.90" width="4.2" height="4.2" fill="#1a1012"/>
<rect x="447.30" y="349.60" width="4.2" height="4.2" fill="#1a1012"/>
<rect x="453.50" y="355.00" width="4.2" height="4.2" fill="#1a1012"/>
<rect x="460.40" y="354.00" width="4.2" height="4.2" fill="#1a1012"/>
<rect x="467.40" y="355.40" width="4.2" height="4.2" fill="#1a1012"/>
<rect x="473.90" y="354.00" width="4.2" height="4.2" fill="#1a1012"/>
<rect x="480.70" y="340.10" width="4.2" height="4.2" fill="#1a1012"/>
<rect x="487.30" y="331.90" width="4.2" height="4.2" fill="#1a1012"/>
<rect x="494.30" y="314.10" width="4.2" height="4.2" fill="#1a1012"/>
<rect x="501.20" y="271.10" width="4.2" height="4.2" fill="#1a1012"/>
<rect x="508.60" y="245.50" width="4.2" height="4.2" fill="#1a1012"/>
<rect x="514.80" y="242.70" width="4.2" height="4.2" fill="#1a1012"/>
<text x="162.30" y="34.00" font-family="Liberation Sans" font-size="11.5" font-weight="bold" text-anchor="middle" fill="#111" stroke="#111" stroke-width="0.3" >Time (min)</text>
<text x="432.80" y="31.60" font-family="Liberation Sans" font-size="11.5" font-weight="bold" text-anchor="middle" fill="#111" stroke="#111" stroke-width="0.3" >Time (min)</text>
<text x="159.00" y="414.50" font-family="Liberation Sans" font-size="12" font-weight="bold" text-anchor="middle" fill="#111" stroke="#111" stroke-width="0.3" >Alg/CH (molar ratio)</text>
<text x="431.90" y="412.00" font-family="Liberation Sans" font-size="11.7" font-weight="bold" text-anchor="middle" fill="#111" stroke="#111" stroke-width="0.3" >Alg/CH (molar ratio)</text>
<text transform="translate(28.2,24.8) scale(0.94,1)" font-family="Liberation Serif" font-size="23.2" font-weight="bold" text-anchor="middle" fill="#111" stroke="#111" stroke-width="0.15">A</text>
<text transform="translate(297,24.2) scale(0.93,1)" font-family="Liberation Serif" font-size="22.5" font-weight="bold" text-anchor="middle" fill="#111" stroke="#111" stroke-width="0.1">B</text>
<text transform="translate(21.6,154.6) rotate(-90) scale(1.03,1)" font-family="Liberation Sans" font-size="12" font-weight="bold" text-anchor="middle" fill="#111" stroke="#111" stroke-width="0.3">μcal/s</text>
<text transform="translate(293.4,152.4) rotate(-90)" font-family="Liberation Sans" font-size="12" font-weight="bold" text-anchor="middle" fill="#111" stroke="#111" stroke-width="0.3">μcal/s</text>
<text transform="translate(24.5,309) rotate(-90)" font-family="Liberation Sans" font-size="12.8" font-weight="bold" text-anchor="middle" fill="#111" stroke="#111" stroke-width="0.3">kcal mol<tspan font-size="8.5" dy="-6.3">-1</tspan><tspan dy="6.3"> of injectant</tspan></text>
<text transform="translate(298.4,306.5) rotate(-90)" font-family="Liberation Sans" font-size="12.8" font-weight="bold" text-anchor="middle" fill="#111" stroke="#111" stroke-width="0.3">kcal mol<tspan font-size="8.5" dy="-6.3">-1</tspan><tspan dy="6.3"> of injectant</tspan></text>
</svg></body></html>
